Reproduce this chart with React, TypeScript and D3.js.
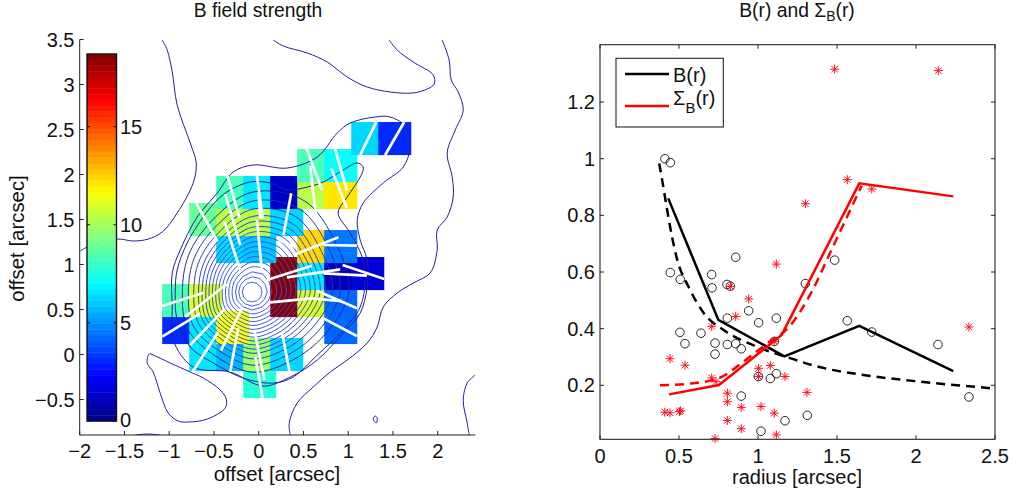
import * as d3 from "d3";

const W = 1027;
const H = 489;
const FONT = "'Liberation Sans', Arial, sans-serif";
const MINUS = "\u2212";

// left panel
const xMapTicks = [-2, -1.5, -1, -0.5, 0, 0.5, 1, 1.5, 2];
const yMapTicks = [-0.5, 0, 0.5, 1, 1.5, 2, 2.5, 3, 3.5];
const cbTicks = [0, 5, 10, 15];
const B_MAX = 18.7;

// B field cells, rows top to bottom, columns left to right (null = blank)
const CELL_X0 = -1.078;
const CELL_Y0 = 2.583;
const CELL_DX = 0.3017;
const CELL_DY = 0.3;
const CELL_W = 0.369;
const CELL_H = 0.367;
const _ = null;
const bCells: (number | null)[][] = [
  [_, _, _, _, _, _, _, 6.3, 3.2],
  [_, _, _, _, _, 8.2, 7.3, _, _],
  [_, _, 8.2, 6.5, 1.3, 10.4, 12.1, _, _],
  [_, 8.8, 10.4, 10.4, 6.3, _, _, _, _],
  [_, _, 6.3, 5.9, _, 12.4, 4.4, _, _],
  [_, _, _, _, 18.7, 6.5, 0.9, 1.6, _],
  [8.2, 10.9, _, _, 18.7, 11, 4.1, _, _],
  [3.2, 6.6, 11.6, _, _, _, 4.1, _, _],
  [_, 6.6, 5.8, 9.9, 6.15, _, _, _, _],
  [_, _, _, 7.85, _, _, _, _, _],
];

// open contour pieces, [offset x, offset y] in arcsec
const contourA = [[-1.078, 3.494], [-1.022, 3.383], [-0.966, 3.139], [-0.911, 2.772], [-0.765, 2.35], [-0.698, 2.128], [-0.732, 1.906], [-0.911, 1.572], [-1.078, 1.361], [-1.235, 1.283], [-1.402, 1.261], [-1.581, 1.283], [-1.916, 1.194], [-1.994, 1.15]];
const contourB = [[0.162, 3.494], [0.274, 3.428], [0.542, 3.35], [0.765, 3.25], [0.989, 3.083], [1.212, 2.972], [1.469, 2.917], [1.726, 2.906], [1.883, 2.95], [1.961, 3.006], [1.95, 3.106], [1.726, 3.25], [1.547, 3.383], [1.458, 3.494]];
const contourC = [[2.05, 3.494], [2.128, 3.272], [2.151, 3.05], [2.229, 2.917], [2.285, 2.717], [2.196, 2.494], [2.106, 2.239], [2.162, 1.972], [2.173, 1.75], [2.106, 1.528], [1.994, 1.383], [1.994, 1.161], [1.916, 0.906], [1.726, 0.794], [1.547, 0.683], [1.391, 0.528], [1.324, 0.306], [1.212, 0.128], [0.989, -0.061], [0.799, -0.194], [0.609, -0.361], [0.43, -0.539], [0.341, -0.761], [0.352, -0.894]];
const contourD = [[2.419, -0.228], [2.33, -0.317], [2.285, -0.506], [2.33, -0.761], [2.352, -0.894]];
const contourE = [[-1.38, -0.894], [-1.246, -0.883], [-1.101, -0.894]];
// closed contour pieces
const contourTiny = [[1.302, -0.683], [1.279, -0.717], [1.313, -0.761], [1.324, -0.706]];
const contourBlob = [[-1.223, 0.006], [-1.246, -0.094], [-1.179, -0.194], [-1.101, -0.428], [-1.011, -0.65], [-0.899, -0.739], [-0.788, -0.75], [-0.575, -0.717], [-0.374, -0.594], [-0.363, -0.494], [-0.43, -0.394], [-0.62, -0.261], [-0.765, -0.194], [-0.989, -0.094], [-1.179, -0.006]];
const contourMain = [[1.022, 2.572], [1.302, 2.639], [1.469, 2.639], [1.659, 2.517], [1.693, 2.306], [1.615, 2.083], [1.391, 1.906], [1.168, 1.683], [1.101, 1.494], [1.134, 1.272], [1.212, 1.05], [1.212, 0.75], [1.134, 0.461], [0.944, 0.239], [0.654, -0.061], [0.352, -0.25], [0.05, -0.35], [-0.318, -0.194], [-0.732, -0.139], [-0.955, 0.161], [-0.966, 0.528], [-0.966, 0.906], [-0.877, 1.161], [-0.687, 1.528], [-0.464, 1.794], [-0.285, 2.028], [-0.061, 2.106], [0.318, 2.072], [0.654, 2.194], [0.877, 2.461]];
const contourHook = [[1.168, 2.083], [1.101, 2.128], [0.944, 2.05], [0.721, 1.917], [0.497, 1.85], [0.318, 1.828], [0.128, 1.906], [-0.095, 1.917], [-0.318, 1.828], [-0.464, 1.717], [-0.62, 1.528], [-0.799, 1.239], [-0.911, 0.939], [-0.933, 0.683], [-0.911, 0.383], [-0.765, 0.083], [-0.508, -0.094], [-0.173, -0.261], [0.162, -0.317], [0.385, -0.25], [0.654, -0.006], [0.944, 0.272], [1.134, 0.528], [1.19, 0.828], [1.156, 1.083], [1.022, 1.35], [0.888, 1.572], [0.989, 1.75], [1.134, 1.972]];

// nested rings round the peak: outline read every 30 deg clockwise from east
const PEAK = [-0.073, 0.694];
const ringOutline = [1.08, 0.94, 0.88, 0.89, 0.82, 0.83, 0.78, 0.82, 0.91, 1.11, 1.17, 1.08];
const ringInnerRadius = 0.11;
const ringSteps = [0, 0.06, 0.115, 0.17, 0.225, 0.28, 0.335, 0.39, 0.445, 0.5, 0.555, 0.61, 0.67, 0.73, 0.81, 0.9, 1];

// polarisation vectors [x1, y1, x2, y2] in arcsec
const vectors = [
  [1.313, 2.583, 1.134, 2.217], [1.626, 2.583, 1.413, 2.217], [0.538, 2.283, 0.706, 1.828], [0.855, 2.283, 0.985, 1.817],
  [0.575, 2.094, 0.642, 1.531], [0.81, 2.069, 0.985, 1.624], [-0.348, 1.983, -0.214, 1.513], [-0.374, 1.783, -0.207, 1.217],
  [-0.02, 1.983, 0.047, 1.513], [-0.002, 1.791, 0.017, 1.513], [0.363, 1.791, 0.277, 1.328], [-0.698, 1.683, -0.46, 1.254],
  [-0.382, 1.476, -0.207, 0.939], [-0.02, 1.494, 0.035, 0.939], [0.892, 1.302, 0.389, 1.106], [1.097, 1.209, 0.732, 1.217],
  [0.594, 0.987, 0.091, 0.828], [0.911, 0.946, 0.315, 0.857], [1.209, 0.876, 0.724, 0.902], [1.402, 0.839, 0.937, 0.994],
  [1.097, 0.513, 0.65, 0.709], [0.128, 0.58, 0.594, 0.624], [0.594, 0.624, 0.929, 0.594], [1.097, 0.206, 0.724, 0.402],
  [0.222, 1.272, 0.408, 1.198], [-1.078, 0.539, -0.616, 0.687], [-0.821, 0.42, -0.356, 0.783], [-1.078, 0.198, -0.654, 0.457],
  [-0.765, 0.106, -0.393, 0.494], [-0.739, -0.194, -0.453, 0.25], [-0.423, 0.043, -0.184, 0.517], [-0.318, -0.191, -0.229, 0.294],
  [-0.05, 0.272, 0.065, -0.283], [-0.039, -0.024, 0.043, -0.48], [0.259, 0.254, 0.345, -0.191],
];

// right panel
const xRadTicks = [0, 0.5, 1, 1.5, 2, 2.5];
const yRadTicks = [0.2, 0.4, 0.6, 0.8, 1, 1.2];
const circles = [
  [0.411, 1.0], [0.445, 0.986], [0.859, 0.652], [0.445, 0.598], [0.508, 0.574], [0.707, 0.591], [0.709, 0.544], [0.804, 0.556],
  [0.825, 0.55], [0.941, 0.463], [1.004, 0.421], [1.116, 0.437], [0.806, 0.437], [0.506, 0.387], [0.538, 0.347], [0.639, 0.384],
  [0.728, 0.349], [0.728, 0.31], [0.806, 0.344], [0.859, 0.347], [0.894, 0.329], [1.103, 0.355], [1.3, 0.559], [1.002, 0.231],
  [1.078, 0.224], [1.116, 0.241], [0.894, 0.162], [1.171, 0.075], [1.019, 0.038], [1.312, 0.094], [1.485, 0.642], [1.565, 0.428],
  [1.72, 0.388], [2.139, 0.344], [2.335, 0.159],
];
const stars = [
  [1.116, 0.628], [0.825, 0.549], [0.941, 0.505], [0.859, 0.443], [0.707, 0.408], [0.443, 0.294], [0.538, 0.271], [0.707, 0.226],
  [0.734, 0.213], [1.004, 0.26], [1.078, 0.27], [1.004, 0.231], [1.171, 0.231], [1.103, 0.355], [1.31, 0.175], [0.806, 0.172],
  [0.806, 0.142], [0.894, 0.122], [1.019, 0.125], [1.103, 0.102], [0.806, 0.076], [0.894, 0.047], [1.116, 0.025], [0.728, 0.012],
  [0.41, 0.105], [0.443, 0.103], [0.503, 0.107], [0.51, 0.11], [1.485, 1.316], [2.141, 1.311], [1.565, 0.926], [1.72, 0.893],
  [1.3, 0.841], [2.335, 0.406],
];
const bLine = [[0.432, 0.86], [0.749, 0.431], [1.167, 0.302], [1.641, 0.41], [2.236, 0.25]];
const sigmaLine = [[0.437, 0.168], [0.753, 0.201], [1.15, 0.378], [1.641, 0.913], [2.236, 0.867]];
const bModel = [[0.375, 0.983], [0.397, 0.913], [0.432, 0.796], [0.481, 0.66], [0.57, 0.537], [0.665, 0.449], [0.78, 0.396], [0.99, 0.337], [1.203, 0.296], [1.371, 0.267], [1.688, 0.235], [2.025, 0.213], [2.468, 0.19]];
const sigmaModel = [[0.38, 0.2], [0.55, 0.205], [0.747, 0.224], [0.9, 0.28], [1.05, 0.345], [1.203, 0.41], [1.33, 0.52], [1.475, 0.69], [1.656, 0.905]];

const fmt = (v: number) => (v < 0 ? MINUS + Math.abs(v) : String(v));

const xMap = d3.scaleLinear().domain([-2, 2.42]).range([79.7, 475.3]);
const yMap = d3.scaleLinear().domain([-0.894, 3.5]).range([435, 39.5]);
const cbY = d3.scaleLinear().domain([0, B_MAX]).range([421, 54]);
const xRad = d3.scaleLinear().domain([0, 2.5]).range([600, 995]);
const yRad = d3.scaleLinear().domain([0.0094, 1.4025]).range([439.3, 44.7]);

const jetRamp = d3
  .scaleLinear<string>()
  .domain([0, 0.125, 0.375, 0.625, 0.875, 1])
  .range(["#000084", "#0000ff", "#00ffff", "#ffff00", "#ff0000", "#800000"])
  .clamp(true);
const jet = (v: number) => {
  const level = Math.min(63, Math.floor((v / B_MAX) * 64));
  return jetRamp((level + 0.5) / 64);
};

const mapLine = d3.line<number[]>().x((d) => xMap(d[0])).y((d) => yMap(d[1])).curve(d3.curveCatmullRom);
const mapLoop = d3.line<number[]>().x((d) => xMap(d[0])).y((d) => yMap(d[1])).curve(d3.curveCatmullRomClosed);
const mapPoly = d3.line<number[]>().x((d) => xMap(d[0])).y((d) => yMap(d[1])).curve(d3.curveLinearClosed);
const radLine = d3.line<number[]>().x((d) => xRad(d[0])).y((d) => yRad(d[1]));
const modelCurve = d3.line<number[]>().x((d) => xRad(d[0])).y((d) => yRad(d[1])).curve(d3.curveMonotoneX);
const ringColor = d3.interpolateRgb("#3355f5", "#2020a0");

// matlab style '*': plus and cross laid over each other
const starType = {
  draw(ctx: any, size: number) {
    const r = Math.sqrt(size);
    const k = r * 0.72;
    ctx.moveTo(-r, 0); ctx.lineTo(r, 0);
    ctx.moveTo(0, -r); ctx.lineTo(0, r);
    ctx.moveTo(-k, -k); ctx.lineTo(k, k);
    ctx.moveTo(-k, k); ctx.lineTo(k, -k);
  },
};
const starPath = d3.symbol(starType as any, 20)() ?? "";

function ringPoints(f: number) {
  return ringOutline.map((r, i) => {
    const a = (i * Math.PI) / 6;
    const rr = ringInnerRadius + f * (r - ringInnerRadius);
    return [PEAK[0] + rr * Math.cos(a), PEAK[1] - rr * Math.sin(a)];
  });
}

export default function App() {
  const axis = "#222";
  const text = { fontFamily: FONT, fontSize: 20, fill: "#111" } as const;
  return (
    <svg width={W} height={H} style={{ position: "absolute", left: 0, top: 0, background: "#fff" }}>
      <defs>
        <clipPath id="mapClip">
          <rect x={xMap(-2)} y={yMap(3.5)} width={xMap(2.42) - xMap(-2)} height={yMap(-0.894) - yMap(3.5)} />
        </clipPath>
      </defs>

      {/* B field map, lower rows first so upper rows overlap them */}
      <g clipPath="url(#mapClip)">
        {bCells.map((row, j) => ({ row, j })).reverse().map(({ row, j }) =>
          row.map((v, i) =>
            v == null ? null : (
              <rect
                key={`${j}-${i}`}
                x={xMap(CELL_X0 + i * CELL_DX)}
                y={yMap(CELL_Y0 - j * CELL_DY)}
                width={xMap(CELL_W) - xMap(0)}
                height={yMap(0) - yMap(CELL_H)}
                fill={jet(v)}
              />
            )
          )
        )}

        {[contourA, contourB, contourC, contourD, contourE].map((c, i) => (
          <path key={i} d={mapLine(c) ?? ""} fill="none" stroke="#2020a0" strokeWidth={1} />
        ))}
        {[contourTiny, contourBlob, contourMain, contourHook].map((c, i) => (
          <path key={i} d={mapLoop(c) ?? ""} fill="none" stroke="#2020a0" strokeWidth={1} />
        ))}
        {ringSteps.map((f, i) => (
          <path
            key={i}
            d={(i < 3 ? mapPoly : mapLoop)(ringPoints(f)) ?? ""}
            fill="none"
            stroke={ringColor(f * f)}
            strokeWidth={0.95}
          />
        ))}

        {vectors.map((v, i) => (
          <line key={i} x1={xMap(v[0])} y1={yMap(v[1])} x2={xMap(v[2])} y2={yMap(v[3])} stroke="#fff" strokeWidth={2.7} />
        ))}
      </g>

      {/* map axes */}
      <path d={`M${xMap(-2)},${yMap(3.5)}V${yMap(-0.894)}H${xMap(2.42)}`} fill="none" stroke={axis} strokeWidth={1} />
      {xMapTicks.map((t) => (
        <g key={t}>
          <line x1={xMap(t)} x2={xMap(t)} y1={yMap(-0.894)} y2={yMap(-0.894) - 4} stroke={axis} />
          <text x={xMap(t)} y={458} textAnchor="middle" {...text}>{fmt(t)}</text>
        </g>
      ))}
      {yMapTicks.map((t) => (
        <g key={t}>
          <line x1={xMap(-2)} x2={xMap(-2) + 4} y1={yMap(t)} y2={yMap(t)} stroke={axis} />
          <text x={74.5} y={yMap(t) + 7} textAnchor="end" {...text}>{fmt(t)}</text>
        </g>
      ))}
      <text x={258} y={17} textAnchor="middle" {...text} fontSize={19.3}>B field strength</text>
      <text x={277} y={480.5} textAnchor="middle" {...text} fontSize={20.4}>offset [arcsec]</text>
      <text transform="translate(24,238.5) rotate(-90)" textAnchor="middle" {...text} fontSize={20.4}>offset [arcsec]</text>

      {/* colour bar */}
      {d3.range(64).map((i) => (
        <rect
          key={i}
          x={87}
          y={cbY(((i + 1) / 64) * B_MAX)}
          width={29.5}
          height={cbY(0) - cbY(B_MAX / 64) + 0.4}
          fill={jet(((i + 0.5) / 64) * B_MAX)}
        />
      ))}
      <rect x={87} y={cbY(B_MAX)} width={29.5} height={cbY(0) - cbY(B_MAX)} fill="none" stroke="#111" strokeWidth={1.4} />
      {cbTicks.map((t) => (
        <g key={t}>
          <line x1={87} x2={90} y1={cbY(t)} y2={cbY(t)} stroke="#111" />
          <line x1={113.5} x2={116.5} y1={cbY(t)} y2={cbY(t)} stroke="#111" />
          <text x={120} y={cbY(t) + 7 - (t === 0 ? 1 : 0)} {...text}>{t}</text>
        </g>
      ))}

      {/* radial profile */}
      {circles.map((d, i) => (
        <circle key={i} cx={xRad(d[0])} cy={yRad(d[1])} r={4.3} fill="none" stroke="#111" strokeWidth={0.9} />
      ))}
      {stars.map((d, i) => (
        <path key={i} d={starPath} transform={`translate(${xRad(d[0])},${yRad(d[1])})`} fill="none" stroke="#ff1020" strokeWidth={1} />
      ))}
      <path d={modelCurve(bModel) ?? ""} fill="none" stroke="#000" strokeWidth={2.5} strokeDasharray="9 6" />
      <path d={radLine(bLine) ?? ""} fill="none" stroke="#000" strokeWidth={2.5} />
      <path d={modelCurve(sigmaModel) ?? ""} fill="none" stroke="#f00" strokeWidth={2.5} strokeDasharray="9 6" />
      <path d={radLine(sigmaLine) ?? ""} fill="none" stroke="#f00" strokeWidth={2.5} />

      <rect x={600} y={44.7} width={395} height={394.6} fill="none" stroke={axis} strokeWidth={1.1} />
      {xRadTicks.map((t) => (
        <g key={t}>
          <line x1={xRad(t)} x2={xRad(t)} y1={439.3} y2={435.3} stroke={axis} />
          <line x1={xRad(t)} x2={xRad(t)} y1={44.7} y2={48.7} stroke={axis} />
          <text x={xRad(t)} y={463} textAnchor="middle" {...text}>{t}</text>
        </g>
      ))}
      {yRadTicks.map((t) => (
        <g key={t}>
          <line x1={600} x2={604} y1={yRad(t)} y2={yRad(t)} stroke={axis} />
          <line x1={995} x2={991} y1={yRad(t)} y2={yRad(t)} stroke={axis} />
          <text x={595} y={yRad(t) + 7} textAnchor="end" {...text}>{t}</text>
        </g>
      ))}
      <text x={797} y={17} textAnchor="middle" {...text} fontSize={19.3}>
        B(r) and {"\u03A3"}<tspan dy={4} fontSize={14}>B</tspan><tspan dy={-4}>(r)</tspan>
      </text>
      <text x={797} y={484} textAnchor="middle" {...text}>radius [arcsec]</text>

      {/* legend */}
      <rect x={616} y={58.3} width={107.3} height={68.7} fill="#fff" stroke="#111" strokeWidth={1} />
      <line x1={625} x2={669} y1={74} y2={74} stroke="#000" strokeWidth={2.5} />
      <line x1={625} x2={669} y1={106} y2={106} stroke="#f00" strokeWidth={2.5} />
      <text x={673} y={82} {...text}>B(r)</text>
      <text x={673} y={105} {...text}>
        {"\u03A3"}<tspan dy={8} fontSize={15}>B</tspan><tspan dy={-8}>(r)</tspan>
      </text>
    </svg>
  );
}
